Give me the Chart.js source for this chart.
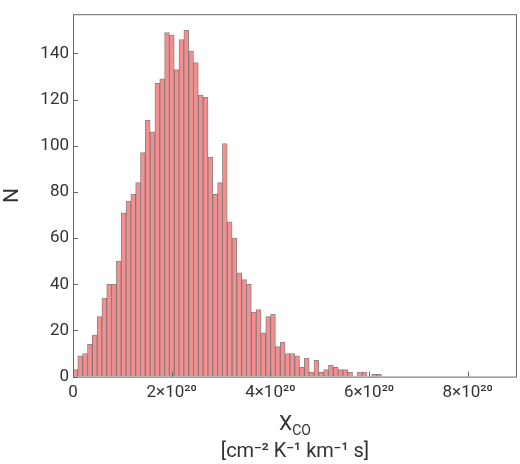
<!DOCTYPE html>
<html>
<head>
<meta charset="utf-8">
<script src="https://cdn.jsdelivr.net/npm/chart.js@4"></script>
<style>
  body { margin: 0; background: #fff; }
  #wrap { width: 520px; height: 464px; }
</style>
</head>
<body>
<div id="wrap"><canvas id="myChart"></canvas></div>
<script>
// bin width in units of 1e20
const binWidth = 0.0977;
const counts = [
  3, 9, 10, 14, 18, 26, 34, 40, 40, 50, 71, 76, 79, 84, 97,
  111, 106, 127, 129, 149, 148, 133, 146, 150, 141, 136, 122, 121, 95, 79,
  84, 101, 67, 60, 45, 42, 40, 28, 29,
  19, 26, 27, 13, 15, 10, 10, 9, 4, 8, 2, 7, 2, 3, 5, 4, 3, 3, 2, 0, 2, 2, 0, 1, 1
];
const xTicks = [0, 2, 4, 6, 8];
const yTicks = [0, 20, 40, 60, 80, 100, 120, 140];

const data = counts.map((c, i) => ({ x: (i + 0.5) * binWidth, y: c }));
const textColor = "#333";

const framePlugin = {
  id: "frame",
  afterDraw(chart) {
    const c = chart.ctx;
    const a = chart.chartArea;
    c.save();
    c.strokeStyle = "#666";
    c.lineWidth = 1;
    c.strokeRect(a.left + 0.5, a.top + 0.5, a.right - a.left - 1, a.bottom - a.top);
    // inward ticks
    const xs = chart.scales.x, ys = chart.scales.y;
    c.beginPath();
    xTicks.forEach(v => { const px = Math.round(xs.getPixelForValue(v)) + 0.5; c.moveTo(px, a.bottom); c.lineTo(px, a.bottom - 5); });
    yTicks.forEach(v => { const py = Math.round(ys.getPixelForValue(v)) + 0.5; c.moveTo(a.left, py); c.lineTo(a.left + 5, py); });
    c.stroke();
    const cx = (a.left + a.right) / 2;
    c.fillStyle = textColor;
    c.textBaseline = "alphabetic";
    c.font = "21px Roboto";
    const w1 = c.measureText("X").width;
    c.font = "14px Roboto";
    const w2 = c.measureText("CO").width;
    const x0 = cx - (w1 + w2) / 2;
    c.font = "21px Roboto";
    c.textAlign = "left";
    c.fillText("X", x0, 430);
    c.font = "14px Roboto";
    c.fillText("CO", x0 + w1, 435);
    c.font = "20px Roboto";
    c.textAlign = "center";
    c.fillText("[cm\u207B\u00B2 K\u207B\u00B9 km\u207B\u00B9 s]", cx, 457);
    c.restore();
  }
};

new Chart(document.getElementById("myChart").getContext("2d"), {
  type: "bar",
  data: {
    datasets: [{
      data: data,
      backgroundColor: "#f58e8f",
      borderColor: "rgba(110,90,90,0.75)",
      borderWidth: 1,
      barPercentage: 1,
      categoryPercentage: 1
    }]
  },
  options: {
    responsive: true,
    maintainAspectRatio: false,
    animation: false,
    layout: { padding: { top: 3, right: 3, bottom: 55, left: 0 } },
    plugins: { legend: { display: false }, tooltip: { enabled: false } },
    scales: {
      x: {
        type: "linear",
        offset: false,
        min: 0,
        max: 9,
        afterBuildTicks: (s) => { s.ticks = xTicks.map(v => ({ value: v })); },
        grid: { display: false, drawTicks: false },
        border: { display: false },
        ticks: {
          color: textColor,
          font: { family: "Roboto", size: 17 },
          padding: 6,
          maxRotation: 0,
          callback: (v) => v === 0 ? "0" : v + "\u00D710\u00B2\u2070"
        }
      },
      y: {
        min: 0,
        max: 157,
        afterBuildTicks: (s) => { s.ticks = yTicks.map(v => ({ value: v })); },
        afterFit: (s) => { s.width = 73; },
        title: {
          display: true,
          text: "N",
          color: textColor,
          font: { family: "Roboto", size: 21 },
          padding: 0
        },
        grid: { display: false, drawTicks: false },
        border: { display: false },
        ticks: {
          color: textColor,
          font: { family: "Roboto", size: 17 },
          padding: 4
        }
      }
    }
  },
  plugins: [framePlugin]
});
</script>
</body>
</html>
